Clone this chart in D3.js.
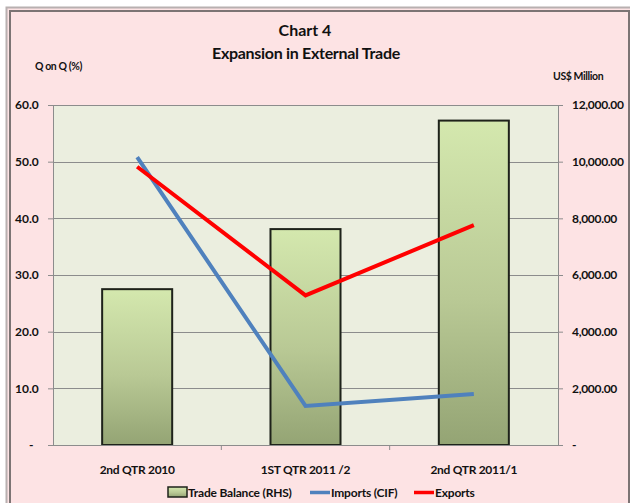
<!DOCTYPE html>
<html>
<head>
<meta charset="utf-8">
<script src="https://cdn.jsdelivr.net/npm/d3@7/dist/d3.min.js"></script>
<style>
  body { margin: 0; background: #fff; }
  svg { display: block; font-family: Lato, "Liberation Sans", sans-serif; }
</style>
</head>
<body>
<div id="chart"></div>
<script>
// Chart 4 - Expansion in External Trade
const categories = ['2nd QTR 2010', '1ST QTR 2011 /2', '2nd QTR 2011/1'];
const tradeBalance = [5500, 7620, 11450];   // US$ million (RHS)
const imports = [50.8, 6.9, 9.0];            // Q on Q (%)
const exports = [49.1, 26.4, 38.8];          // Q on Q (%)
const leftTicks = [0, 10, 20, 30, 40, 50, 60];
const rightTicks = [0, 2000, 4000, 6000, 8000, 10000, 12000];

const W = 630, H = 503;
const margin = { top: 105, right: 72, bottom: 58, left: 53 };
const width = W - margin.left - margin.right;
const height = H - margin.top - margin.bottom;

const svg = d3.select('#chart').append('svg')
    .attr('width', W)
    .attr('height', H);

const defs = svg.append('defs');
const grad = defs.append('linearGradient')
    .attr('id', 'barGrad')
    .attr('x1', 0).attr('y1', 0).attr('x2', 0).attr('y2', 1);
grad.append('stop').attr('offset', '0%').attr('stop-color', '#d4e8ae');
grad.append('stop').attr('offset', '55%').attr('stop-color', '#b9c995');
grad.append('stop').attr('offset', '100%').attr('stop-color', '#94a474');

// Frame
svg.append('rect').attr('x', 6.5).attr('y', 7.5).attr('width', W).attr('height', H)
    .attr('fill', '#fde3e4').attr('stroke', '#b8b0b0').attr('stroke-width', 2);
svg.append('rect').attr('x', 10).attr('y', 11).attr('width', W - 11).attr('height', H)
    .attr('fill', '#fde3e4').attr('stroke', '#7c7474').attr('stroke-width', 2);

// Titles
svg.append('text').attr('x', 305).attr('y', 36).attr('text-anchor', 'middle')
    .attr('font-size', '16px').attr('font-weight', 'bold').attr('fill', '#111').text('Chart 4');
svg.append('text').attr('x', 306).attr('y', 59).attr('text-anchor', 'middle')
    .attr('font-size', '16px').attr('font-weight', 'bold').attr('fill', '#111')
    .attr('letter-spacing', '-0.3px').text('Expansion in External Trade');
svg.append('text').attr('x', 35).attr('y', 70)
    .attr('font-size', '10.5px').attr('font-weight', 'bold').attr('fill', '#111')
    .attr('letter-spacing', '-0.4px').text('Q on Q (%)');
svg.append('text').attr('x', 553).attr('y', 80)
    .attr('font-size', '10.5px').attr('font-weight', 'bold').attr('fill', '#111')
    .attr('letter-spacing', '-0.4px').text('US$ Million');

const g = svg.append('g').attr('transform', `translate(${margin.left},${margin.top})`);

// Scales
const x = d3.scaleBand().domain(categories).range([0, width]).paddingInner(0.584).paddingOuter(0.292);
const xc = d => x(d) + x.bandwidth() / 2;
const yL = d3.scaleLinear().domain([0, 60]).range([height, 0]);
const yR = d3.scaleLinear().domain([0, 12000]).range([height, 0]);

// Plot area
g.append('rect').attr('width', width).attr('height', height).attr('fill', '#ebeedf');

// Gridlines
g.selectAll('.grid').data(leftTicks.slice(1)).enter().append('line')
    .attr('x1', 0).attr('x2', width)
    .attr('y1', d => Math.round(yL(d)) + 0.5).attr('y2', d => Math.round(yL(d)) + 0.5)
    .attr('stroke', '#8c8c8c').attr('stroke-width', 1);

// Bars
g.selectAll('.bar').data(tradeBalance).enter().append('rect')
    .attr('x', (d, i) => x(categories[i]))
    .attr('y', d => yR(d))
    .attr('width', x.bandwidth())
    .attr('height', d => height - yR(d))
    .attr('fill', 'url(#barGrad)')
    .attr('stroke', '#1e221a').attr('stroke-width', 2);

// Axes
const axisColor = '#8c8c8c';
const leftAxis = g.append('g')
    .call(d3.axisLeft(yL).tickValues(leftTicks).tickSize(5).tickPadding(16)
        .tickFormat(d => d === 0 ? '-' : d3.format('.1f')(d)));
const rightAxis = g.append('g').attr('transform', `translate(${width},0)`)
    .call(d3.axisRight(yR).tickValues(rightTicks).tickSize(5).tickPadding(9)
        .tickFormat(d => d === 0 ? '-' : d3.format(',.2f')(d)));
const bottomAxis = g.append('g').attr('transform', `translate(0,${height})`)
    .call(d3.axisBottom(x).tickSize(0).tickPadding(20));

[leftAxis, rightAxis, bottomAxis].forEach(a => {
    a.select('.domain').attr('stroke', axisColor);
    a.selectAll('line').attr('stroke', axisColor);
    a.selectAll('text').attr('font-size', '12px').attr('font-weight', 'bold')
        .attr('fill', '#111').attr('font-family', 'Lato, sans-serif');
});
rightAxis.selectAll('text').attr('letter-spacing', '-0.3px');
bottomAxis.selectAll('text').attr('letter-spacing', '-0.3px');
leftAxis.selectAll('text').attr('text-anchor', 'start').attr('x', -38);
leftAxis.selectAll('.tick').filter(d => d === 0).select('text').attr('x', -24);
bottomAxis.select('.domain').attr('d', `M0,0.5H${width}`);

// Category boundary ticks on x-axis
g.selectAll('.xtick').data(categories.slice(1)).enter().append('line')
    .attr('x1', d => x(d) - x.step() * x.paddingInner() / 2)
    .attr('x2', d => x(d) - x.step() * x.paddingInner() / 2)
    .attr('y1', height).attr('y2', height + 5)
    .attr('stroke', axisColor);

// Lines
const line = d3.line().x((d, i) => xc(categories[i])).y(d => yL(d));
g.append('path').datum(imports).attr('d', line)
    .attr('fill', 'none').attr('stroke', '#4f81bd').attr('stroke-width', 4)
    .attr('stroke-linejoin', 'miter');
g.append('path').datum(exports).attr('d', line)
    .attr('fill', 'none').attr('stroke', '#ff0000').attr('stroke-width', 4)
    .attr('stroke-linejoin', 'miter');

// Legend
const legend = svg.append('g').attr('font-size', '12px').attr('font-weight', 'bold').attr('fill', '#111');
legend.append('rect').attr('x', 168).attr('y', 487).attr('width', 19).attr('height', 10)
    .attr('fill', 'url(#barGrad)').attr('stroke', '#1e221a').attr('stroke-width', 1.5);
legend.append('text').attr('x', 188).attr('y', 497).attr('letter-spacing', '-0.2px').text('Trade Balance (RHS)');
legend.append('line').attr('x1', 310).attr('x2', 330).attr('y1', 492.5).attr('y2', 492.5)
    .attr('stroke', '#4f81bd').attr('stroke-width', 3.5);
legend.append('text').attr('x', 331).attr('y', 497).attr('letter-spacing', '-0.2px').text('Imports (CIF)');
legend.append('line').attr('x1', 414).attr('x2', 434).attr('y1', 492.5).attr('y2', 492.5)
    .attr('stroke', '#ff0000').attr('stroke-width', 3.5);
legend.append('text').attr('x', 435).attr('y', 497).attr('letter-spacing', '-0.2px').text('Exports');
</script>
</body>
</html>
